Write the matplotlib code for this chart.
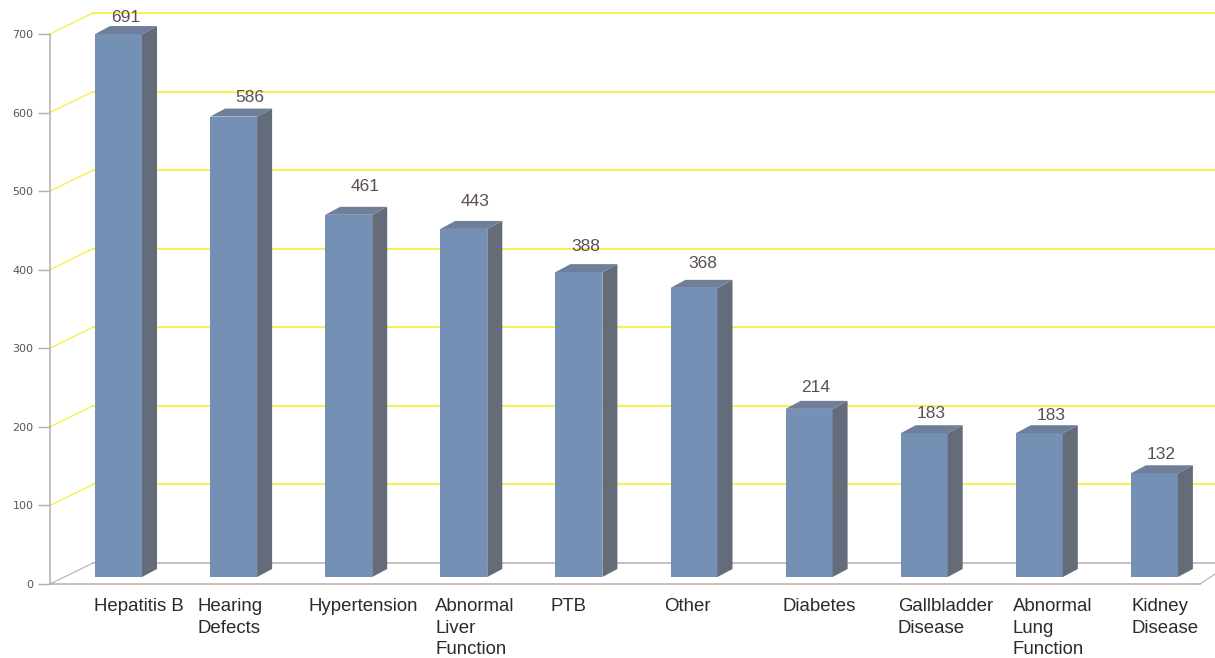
import matplotlib
matplotlib.use("Agg")
import matplotlib.pyplot as plt

categories = ["Hepatitis B", "Hearing\nDefects", "Hypertension", "Abnormal\nLiver\nFunction", "PTB",
              "Other", "Diabetes", "Gallbladder\nDisease", "Abnormal\nLung\nFunction", "Kidney\nDisease"]
values = [691, 586, 461, 443, 388, 368, 214, 183, 183, 132]
yticks = [0, 100, 200, 300, 400, 500, 600, 700]
# the labels are not centred under the bars in the original
label_x = [-0.21, 0.69, 1.65, 2.75, 3.75, 4.74, 5.77, 6.77, 7.77, 8.80]
# value label nudges, in pixels from the bar centre / bar top
value_dx = [7, 16, 16, 11, 7, 9, 7, 7, 12, 7]
value_dy = [17, 19, 28, 27, 26, 24, 21, 20, 18, 19]

W, H = 1215, 658
FRONT = "#7590b5"
SIDE = "#646c7a"
TOP = "#6f7f99"
GREY = "#b5aeae"
YELLOW = "#f7ee1e"

plt.rcParams["font.family"] = ["Liberation Sans", "DejaVu Sans"]

fig = plt.figure(figsize=(W / 100, H / 100), dpi=100)
ax = fig.add_axes([50 / W, (H - 584) / H, (W - 50) / W, 550 / H])

# pixel scale of the chart
px_x = 115.1
px_y = 550 / 700
ax.set_xlim((50 - 118.5) / px_x, (W - 118.5) / px_x)
ax.set_ylim(0, 700)
xleft = ax.get_xlim()[0]
xright = ax.get_xlim()[1]

wall_x = 43 / px_x
wall_y = 21 / px_y
depth_x = 15 / px_x
depth_y = 8 / px_y
base = 7 / px_y
bar_w = 47 / px_x

# back wall lines
for t in yticks:
    color = GREY if t == 0 else YELLOW
    ax.plot([xleft, xleft + wall_x], [t, t + wall_y], color=color, lw=0.8, clip_on=False, zorder=1)
    ax.plot([xleft + wall_x, xright], [t + wall_y, t + wall_y], color=color, lw=1.1, clip_on=False, zorder=1)
ax.plot([xright - 15 / px_x, xright], [0, 10 / px_y], color=GREY, lw=0.8, clip_on=False, zorder=1)

# 3d bars
for i, v in enumerate(values):
    x0 = i - bar_w / 2
    x1 = i + bar_w / 2
    top = v + base
    ax.fill([x0, x1, x1, x0], [base, base, top, top], color=FRONT, lw=0, clip_on=False, zorder=3)
    ax.fill([x1, x1 + depth_x, x1 + depth_x, x1], [base, base + depth_y, top + depth_y, top],
            color=SIDE, lw=0, clip_on=False, zorder=3)
    ax.fill([x0, x1, x1 + depth_x, x0 + depth_x], [top, top, top + depth_y, top + depth_y],
            color=TOP, lw=0, clip_on=False, zorder=3)
    ax.annotate(str(v), (i, top), xytext=(value_dx[i] * 0.72, value_dy[i] * 0.72),
                textcoords="offset points", ha="center", va="center",
                fontsize=12.5, color="#5b4f5a", zorder=4)

for side in ["top", "right"]:
    ax.spines[side].set_visible(False)
ax.spines["left"].set_color(GREY)
ax.spines["bottom"].set_color(GREY)
ax.spines["left"].set_linewidth(1.1)
ax.spines["bottom"].set_linewidth(1.1)
ax.spines["bottom"].set_bounds(xleft, xright - 15 / px_x)

ax.set_yticks(yticks)
ax.tick_params(axis="y", length=9, width=1, color=GREY, labelsize=8, labelcolor="#555555", pad=3)
for lab in ax.get_yticklabels():
    lab.set_family("DejaVu Sans")

ax.set_xticks(label_x)
ax.set_xticklabels(categories, ha="left", va="top", fontsize=13.4, color="#2b2b2b", linespacing=1.36)
ax.tick_params(axis="x", length=0, pad=10)

fig.savefig("out.png", dpi=100)
